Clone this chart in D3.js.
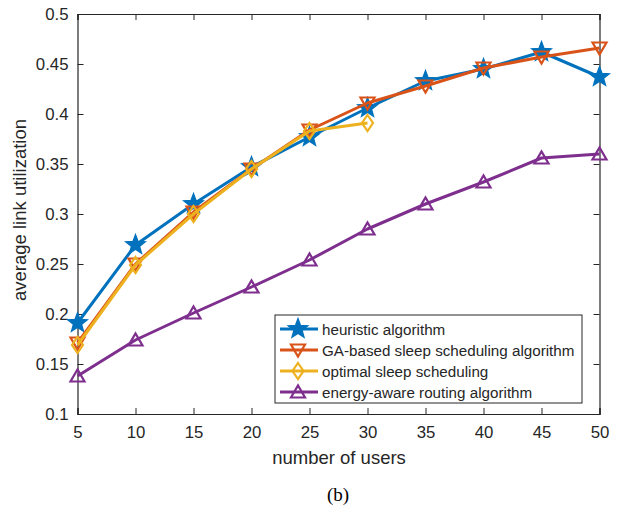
<!DOCTYPE html>
<html><head><meta charset="utf-8">
<script src="https://cdn.jsdelivr.net/npm/d3@7"></script>
<style>body{margin:0;background:#fff}svg{display:block}text{font-family:"Liberation Sans",Arial,sans-serif;fill:#262626}</style>
</head><body>
<script>
const users = [5,10,15,20,25,30,35,40,45,50];
const heuristic = [0.191,0.269,0.310,0.347,0.377,0.406,0.433,0.445,0.462,0.437];
const gaBased = [0.171,0.250,0.302,0.345,0.384,0.411,0.428,0.446,0.457,0.466];
const optimal = [0.169,0.249,0.300,0.345,0.383,0.391];
const energyAware = [0.138,0.174,0.201,0.227,0.254,0.285,0.310,0.332,0.356,0.360];
const seriesNames = ["heuristic algorithm","GA-based sleep scheduling algorithm","optimal sleep scheduling","energy-aware routing algorithm"];
const xTicks = [5,10,15,20,25,30,35,40,45,50];
const yTicks = [0.1,0.15,0.2,0.25,0.3,0.35,0.4,0.45,0.5];

const W=622,H=509;
const svg=d3.select("body").append("svg").attr("width",W).attr("height",H);
const L=77.5,R=599.5,T=14,B=414;
const x=d3.scaleLinear().domain([5,50]).range([L,R]);
const y=d3.scaleLinear().domain([0.1,0.5]).range([B,T]);

const series=[
 {name:seriesNames[0],vals:heuristic,color:"#0072BD",marker:"star"},
 {name:seriesNames[1],vals:gaBased,color:"#D95319",marker:"down"},
 {name:seriesNames[2],vals:optimal,color:"#EDB120",marker:"diamond"},
 {name:seriesNames[3],vals:energyAware,color:"#7E2F8E",marker:"up"}
];

// axes
const ax=svg.append("g");
ax.append("g").attr("transform",`translate(0,${B})`).call(d3.axisBottom(x).tickValues(xTicks).tickSize(-6).tickPadding(12).tickFormat(d3.format("d")));
ax.append("g").attr("transform",`translate(0,${T})`).call(d3.axisTop(x).tickValues(xTicks).tickSize(-6).tickFormat(""));
ax.append("g").attr("transform",`translate(${L},0)`).call(d3.axisLeft(y).tickValues(yTicks).tickSize(-6).tickPadding(9).tickFormat(d=>String(+d.toFixed(2))));
ax.append("g").attr("transform",`translate(${R},0)`).call(d3.axisRight(y).tickValues(yTicks).tickSize(-6).tickFormat(""));
ax.selectAll(".domain").attr("stroke","#262626").attr("stroke-width",1.2);
ax.selectAll(".tick line").attr("stroke","#262626").attr("stroke-width",1);
ax.selectAll(".tick text").style("font-size","16.8px").style("fill","#262626").style("font-family","Liberation Sans, Arial, sans-serif");

function starPath(ro,ri){
  let p="";
  for(let k=0;k<10;k++){
    const r=k%2?ri:ro, a=-Math.PI/2+k*Math.PI/5;
    p+=(k?"L":"M")+(r*Math.cos(a)).toFixed(2)+","+(r*Math.sin(a)).toFixed(2);
  }
  return p+"Z";
}
function markerPath(type){
  if(type==="star") return starPath(9,3.8);
  if(type==="diamond") return "M0,-8L5.5,0L0,8L-5.5,0Z";
  if(type==="down") return "M-7,-5.5L7,-5.5L0,6.5Z";
  if(type==="up") return "M-7,5.5L7,5.5L0,-6.5Z";
}
const line=d3.line().x((d,i)=>x(users[i])).y(d=>y(d));
series.forEach(s=>{
  const g=svg.append("g");
  g.append("path").attr("d",line(s.vals)).attr("fill","none").attr("stroke",s.color).attr("stroke-width",3).attr("stroke-linejoin","round");
  g.selectAll("path.m").data(s.vals).enter().append("path").attr("class","m")
   .attr("transform",(d,i)=>`translate(${x(users[i])},${y(d)})`)
   .attr("d",markerPath(s.marker))
   .attr("fill",s.marker==="star"?s.color:"none").attr("stroke",s.color).attr("stroke-width",2.2).attr("stroke-linejoin","miter");
});

// legend
const lg=svg.append("g");
lg.append("rect").attr("x",275).attr("y",315).attr("width",307).attr("height",88).attr("fill","#fff").attr("stroke","#262626").attr("stroke-width",1);
series.forEach((s,i)=>{
  const yy=329+i*21;
  lg.append("line").attr("x1",280).attr("x2",318).attr("y1",yy).attr("y2",yy).attr("stroke",s.color).attr("stroke-width",3);
  lg.append("path").attr("transform",`translate(298,${yy})`).attr("d",markerPath(s.marker))
    .attr("fill",s.marker==="star"?s.color:"none").attr("stroke",s.color).attr("stroke-width",2.2);
  lg.append("text").attr("x",322).attr("y",yy+5.5).style("font-size","15.2px").text(s.name);
});

// labels
svg.append("text").attr("x",339).attr("y",464).attr("text-anchor","middle").style("font-size","18.5px").text("number of users");
svg.append("text").attr("transform","translate(26,210) rotate(-90)").attr("text-anchor","middle").style("font-size","18.5px").text("average link utilization");
svg.append("text").attr("x",338).attr("y",501).attr("text-anchor","middle").style("font-size","19px").style("font-family","Liberation Serif, Times New Roman, serif").style("fill","#000").text("(b)");
</script>
</body></html>
